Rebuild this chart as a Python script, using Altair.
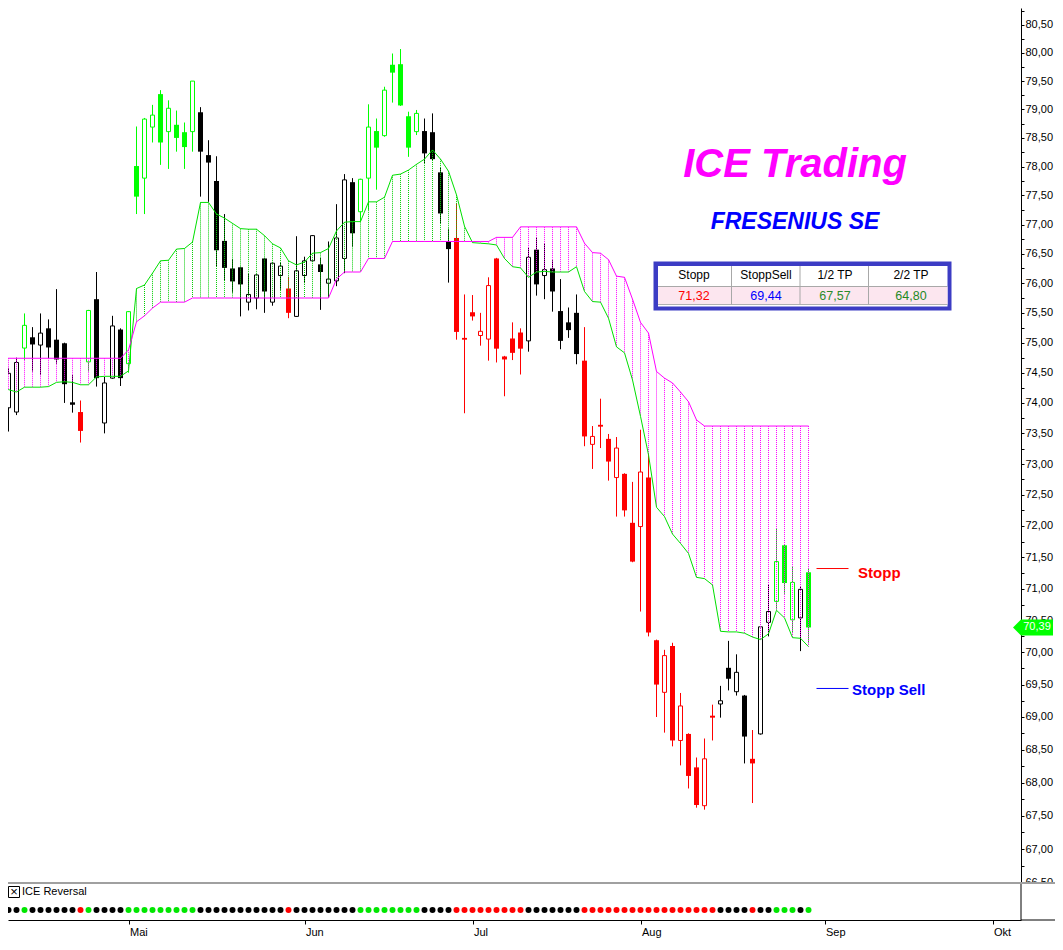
import altair as alt
import pandas as pd
import numpy as np

# ---------------- data ----------------
months = ["Mai", "Jun", "Jul", "Aug", "Sep", "Okt"]
month_first_session = [16, 38, 59, 80, 103, 124]   # session index of first trading day

opens = [75.09, 73.92, 73.85, 74.91, 75.09, 74.96, 75.24, 75.05, 74.99, 74.01,
         73.85, 74.68, 75.73, 73.67, 74.41, 75.22, 74.65, 78.01, 77.80, 78.69,
         79.27, 78.61, 78.73, 78.60, 78.61, 78.95, 78.20, 77.75, 76.72, 76.25,
         76.27, 75.68, 75.75, 76.42, 75.68, 76.13, 75.91, 75.44, 76.13, 76.38,
         76.32, 76.00, 76.04, 76.42, 77.73, 77.22, 77.80, 78.62, 78.54, 79.79,
         79.80, 78.88, 78.61, 78.62, 78.60, 77.90, 76.71, 76.77, 75.08, 75.51,
         75.12, 75.06, 76.42, 74.77, 75.07, 75.17, 75.03, 76.57, 76.13, 76.25,
         75.53, 75.34, 75.50, 74.70, 73.32, 73.64, 73.41, 72.78, 72.84, 72.05,
         71.99, 72.78, 70.19, 69.38, 70.10, 68.64, 68.74, 68.23, 67.65, 69.02,
         69.20, 69.76, 69.39, 69.33, 68.36, 68.74, 70.47, 70.80, 71.69, 70.51,
         70.54, 71.26]
highs = [75.21, 74.58, 74.75, 75.49, 75.26, 75.49, 75.39, 75.90, 75.00, 74.46,
         74.04, 75.55, 76.19, 74.43, 75.45, 75.24, 75.53, 78.70, 78.85, 79.08,
         79.34, 79.16, 78.98, 78.77, 79.50, 79.04, 78.46, 78.18, 77.18, 76.41,
         76.28, 76.16, 76.15, 76.43, 76.36, 76.35, 76.11, 76.80, 76.45, 76.82,
         76.43, 76.71, 77.35, 77.87, 77.80, 77.79, 79.09, 78.84, 79.40, 79.99,
         80.07, 78.96, 78.99, 78.84, 78.93, 77.98, 76.93, 77.36, 75.81, 75.80,
         75.50, 76.10, 76.43, 74.78, 75.34, 75.24, 76.60, 76.78, 76.68, 76.39,
         76.07, 75.59, 75.81, 75.26, 73.62, 74.07, 73.49, 73.44, 72.85, 72.71,
         73.56, 73.17, 70.20, 70.04, 70.15, 69.37, 68.75, 68.38, 68.67, 69.19,
         69.48, 70.18, 69.97, 69.34, 68.80, 70.41, 71.06, 71.96, 71.70, 71.35,
         71.04, 71.33]
lows = [74.30, 73.53, 73.80, 74.71, 74.52, 74.46, 74.74, 74.65, 74.00, 73.84,
        73.35, 74.52, 74.27, 73.50, 74.40, 74.28, 74.50, 77.18, 77.18, 78.42,
        78.03, 77.96, 78.26, 77.96, 78.26, 77.48, 77.39, 76.28, 76.04, 75.84,
        75.44, 75.54, 75.56, 75.50, 75.62, 75.89, 75.41, 75.43, 76.00, 76.36,
        75.55, 75.75, 75.95, 76.17, 76.62, 77.05, 77.25, 77.60, 78.52, 79.12,
        79.06, 78.17, 78.55, 78.06, 78.10, 77.02, 76.01, 75.05, 73.83, 75.37,
        74.95, 74.70, 74.67, 74.11, 74.71, 74.47, 74.85, 75.79, 75.73, 75.52,
        74.89, 75.08, 74.64, 73.29, 72.92, 73.26, 72.73, 72.15, 72.15, 71.42,
        70.64, 70.25, 69.00, 68.76, 68.55, 68.26, 67.91, 67.62, 67.59, 68.64,
        68.99, 69.41, 69.33, 68.29, 67.69, 68.73, 70.25, 70.67, 70.92, 70.30,
        70.02, 70.14]
closes = [74.42, 74.49, 74.67, 75.29, 74.97, 75.16, 74.92, 74.72, 74.31, 73.97,
          73.54, 75.54, 74.41, 74.33, 75.28, 74.41, 75.52, 77.48, 78.83, 78.90,
          78.42, 79.02, 78.50, 78.34, 79.50, 78.26, 78.07, 76.56, 76.26, 76.03,
          75.98, 75.81, 76.14, 75.86, 76.34, 76.29, 75.50, 76.21, 76.38, 76.81,
          76.19, 76.07, 76.77, 77.77, 76.85, 77.78, 78.69, 78.33, 79.34, 79.65,
          79.07, 78.33, 78.93, 78.23, 78.13, 77.19, 76.58, 75.18, 75.05, 75.44,
          75.19, 75.96, 74.90, 74.72, 74.83, 74.90, 76.44, 75.98, 76.23, 75.86,
          75.03, 75.21, 74.81, 73.45, 73.45, 73.61, 73.04, 73.26, 72.25, 71.43,
          72.87, 70.31, 69.50, 69.95, 68.64, 69.17, 68.10, 67.66, 68.36, 68.99,
          69.25, 69.59, 69.69, 68.70, 68.29, 70.40, 70.64, 71.43, 71.09, 71.10,
          70.99, 70.39]
# ICE Reversal signal per session: k = neutral (black), g = long (green), r = short (red)
signal = list("kkk" "g" "kkkkkk" "r" "g" "kkkk" "ggggggggg" "kkkkkkkkkkk" "r"
              "kkkkkkkk" "gggggggg" "kkkk" "rrrrrrrrr" "kkkkkkk" "rrrrrrrrrrrrrrrrr"
              "kkkk" "r" "kk" "ggg" "k" "g")
ice_line = [74.24, 74.22, 74.18, 74.26, 74.26, 74.26, 74.27, 74.34, 74.35, 74.34,
            74.30, 74.30, 74.43, 74.44, 74.44, 74.44, 74.53, 75.91, 75.97, 76.17,
            76.38, 76.39, 76.58, 76.59, 76.70, 77.38, 77.38, 77.18, 77.11, 77.02,
            76.93, 76.92, 76.92, 76.81, 76.67, 76.60, 76.38, 76.31, 76.36, 76.51,
            76.52, 76.59, 76.89, 77.04, 77.05, 77.05, 77.39, 77.39, 77.47, 77.85,
            77.87, 77.94, 78.04, 78.13, 78.29, 78.13, 77.92, 77.51, 76.97, 76.69,
            76.68, 76.67, 76.65, 76.42, 76.28, 76.26, 76.10, 76.19, 76.20, 76.19,
            76.19, 76.19, 76.28, 75.86, 75.69, 75.68, 75.41, 74.93, 74.83, 74.38,
            73.78, 73.15, 72.30, 72.15, 71.87, 71.72, 71.56, 71.18, 71.16, 71.06,
            70.33, 70.32, 70.32, 70.30, 70.24, 70.20, 70.29, 70.66, 70.54, 70.23,
            70.22, 70.09]
stop_line = ([74.74] * 16 + [74.88, 75.35, 75.45, 75.58] + [75.68] * 4 + [75.75] * 18 +
             [76.07] + [76.19] * 3 + [76.42] * 3 + [76.71] * 13 + [76.78] * 3 + [76.96] * 8 +
             [76.68, 76.52, 76.51, 76.40, 76.12, 76.10, 75.73, 75.34, 75.16, 74.52,
              74.41, 74.33, 74.18, 74.02, 73.72] + [73.62] * 14)

table_headers = ["Stopp", "StoppSell", "1/2 TP", "2/2 TP"]
table_values = [71.32, 69.44, 67.57, 64.80]
last_close = 70.39

# ---------------- styling ----------------
FONT = "Liberation Sans"
CANDLE = {"k": "#000000", "g": "#00ff00", "r": "#ff0000"}
DOTC = {"k": "#000000", "g": "#00e600", "r": "#ff0000"}
W, H = 1013, 875
PAD_R, PAD_B = 34, 55


def de(v):
    return f"{v:.2f}".replace(".", ",")


n = len(opens)
df = pd.DataFrame({"i": np.arange(n), "o": opens, "h": highs, "l": lows, "c": closes,
                   "sig": signal, "ice": ice_line, "stp": stop_line})
df["col"] = df["sig"].map(CANDLE)
df["dot"] = df["sig"].map(DOTC)
df["top"] = np.maximum(df.o, df.c)
df["bot"] = np.minimum(df.o, df.c)
df["filled"] = df.c < df.o
df["chi"] = np.maximum(df.ice, df.stp)
df["clo"] = np.minimum(df.ice, df.stp)
df["ccol"] = np.where(df.ice > df.stp, "#00cc00", "#ff00ff")

XS = alt.Scale(domain=[0.9375, 0.9375 + W / 8], nice=False, zero=False, padding=0)
YS = alt.Scale(type="log", domain=[66.495, 80.805], nice=False)

ticks = [66.5 + 0.25 * j for j in range(58)]
YAX = alt.Axis(orient="right", values=ticks, title=None, grid=False,
               labelExpr="(datum.value * 4) % 2 == 0 ? "
                         "replace(format(datum.value, '.2f'), '.', ',') : ''",
               tickSize=3, tickColor="black", domainColor="black", labelColor="black",
               labelFont=FONT, labelFontSize=11, labelPadding=1,
               labelOverlap=False, labelFlush=False)
month_expr = " : ".join(f"datum.value == {v} ? '{m}'"
                        for v, m in zip(month_first_session, months)) + " : ''"
XAX = alt.Axis(values=month_first_session, labelExpr=month_expr, title=None, grid=False,
               offset=37, tickSize=4, tickColor="black", domainColor="black",
               labelAlign="left", labelPadding=2, labelOffset=1, labelFont=FONT,
               labelFontSize=11, labelColor="black", labelFlush=False, labelOverlap=False)

base = alt.Chart(df)


def xq():
    return alt.X("i:Q", scale=XS, axis=XAX)


def yq(f):
    return alt.Y(f, scale=YS, axis=YAX)


def xd(v):
    return alt.XDatum(v, scale=XS, axis=XAX)


one = pd.DataFrame({"a": [0]})

wick = base.mark_rule(strokeWidth=1, clip=True).encode(
    x=xq(), y=yq("h:Q"), y2="l:Q", color=alt.Color("col:N", scale=None))
body_f = base.transform_filter("datum.filled").mark_bar(size=5, clip=True).encode(
    x=xq(), y=yq("top:Q"), y2="bot:Q", color=alt.Color("col:N", scale=None))
body_h = base.transform_filter("!datum.filled").mark_bar(
    size=4, fill="white", strokeWidth=1, clip=True).encode(
    x=xq(), y=yq("top:Q"), y2="bot:Q", stroke=alt.Stroke("col:N", scale=None))
hatch = base.mark_rule(strokeWidth=1, strokeDash=[1, 1], clip=True).encode(
    x=xq(), y=yq("chi:Q"), y2="clo:Q", color=alt.Color("ccol:N", scale=None))
ice = base.mark_line(color="#00e000", strokeWidth=1, clip=True).encode(x=xq(), y=yq("ice:Q"))
stp = base.mark_line(color="#ff00ff", strokeWidth=1, clip=True).encode(x=xq(), y=yq("stp:Q"))

lv = pd.DataFrame({"v": table_values[:2], "col": ["#ff0000", "#0000ff"]})
lv_rule = alt.Chart(lv).mark_rule(strokeWidth=1).encode(
    x=xd(102), x2=alt.X2Datum(106), y=yq("v:Q"), color=alt.Color("col:N", scale=None))
lv_t1 = alt.Chart(lv.iloc[[0]]).mark_text(
    text="Stopp", align="left", baseline="middle", font=FONT, fontSize=15,
    fontWeight="bold", color="#ff0000", dy=4).encode(x=xd(107.2), y=yq("v:Q"))
lv_t2 = alt.Chart(lv.iloc[[1]]).mark_text(
    text="Stopp Sell", align="left", baseline="middle", font=FONT, fontSize=15,
    fontWeight="bold", color="#0000ff", dy=2).encode(x=xd(106.45), y=yq("v:Q"))

title1 = alt.Chart(one).mark_text(
    text="ICE Trading", font=FONT, fontSize=40, fontWeight="bold", fontStyle="italic",
    color="#ff00ff", align="center", baseline="alphabetic").encode(
    x=alt.value(787), y=alt.value(169))
title2 = alt.Chart(one).mark_text(
    text="FRESENIUS SE", font=FONT, fontSize=23, fontWeight="bold", fontStyle="italic",
    color="#0000ff", align="center", baseline="alphabetic").encode(
    x=alt.value(787), y=alt.value(221))


def box(x1, x2, y1, y2, color):
    return alt.Chart(one).mark_rect(color=color).encode(
        x=alt.value(x1), x2=alt.value(x2), y=alt.value(y1), y2=alt.value(y2))


def hline(x1, x2, y, color, w=1):
    return alt.Chart(one).mark_rule(color=color, strokeWidth=w).encode(
        x=alt.value(x1), x2=alt.value(x2), y=alt.value(y))


def vline(x, y1, y2, color):
    return alt.Chart(one).mark_rule(color=color, strokeWidth=1).encode(
        x=alt.value(x), y=alt.value(y1), y2=alt.value(y2))


table_layers = [
    box(645.5, 943.5, 253.5, 302.5, "#3c3cc4"),
    box(650, 939.5, 258, 298.5, "#ffffff"),
    box(650, 939.5, 279, 296, "#fce6ef"),
    hline(650, 939.5, 278.5, "#a8a8a8"),
    hline(650, 939.5, 296.5, "#b0b0b0"),
]
for cx in [723.5, 792, 860.5]:
    table_layers.append(vline(cx, 258, 296.5, "#a8a8a8"))
centers = [686, 758, 827, 903]
vcols = ["#ff0000", "#0000ff", "#2a8c2a", "#1f8a1f"]
for hdr, val, cx, vc in zip(table_headers, table_values, centers, vcols):
    table_layers.append(alt.Chart(one).mark_text(
        text=hdr, font=FONT, fontSize=12, align="center", baseline="middle",
        color="black").encode(x=alt.value(cx), y=alt.value(267)))
    table_layers.append(alt.Chart(one).mark_text(
        text=de(val), font=FONT, fontSize=12.5, align="center", baseline="middle",
        color=vc).encode(x=alt.value(cx), y=alt.value(287.5)))

tagdf = pd.DataFrame({"v": [last_close]})
tag_shape = "M -1 0 L -0.6 -0.4 L 1 -0.4 L 1 0.4 L -0.6 0.4 Z"
tag = alt.Chart(tagdf).mark_point(
    shape=tag_shape, size=1600, filled=True, color="#00ff00", opacity=1,
    strokeWidth=0).encode(x=alt.value(1025), y=yq("v:Q"))
tag_t = alt.Chart(tagdf).mark_text(
    text=de(last_close), font=FONT, fontSize=11, color="white", align="center",
    baseline="middle").encode(x=alt.value(1029), y=yq("v:Q"))

# ---------------- lower panel: ICE Reversal ----------------
cover = box(W + 1, W + PAD_R, 876, 930, "#ffffff")
sep = hline(0, W + PAD_R, 875, "#a0a0a0", 2)
rv = vline(W, 876, 912, "black")
axis_ext = hline(W, W + PAD_R, 912, "black")
dots = base.mark_circle(size=36, opacity=1).encode(
    x=xq(), y=alt.value(902), color=alt.Color("dot:N", scale=None))
xbox = alt.Chart(one).mark_rect(fill="white", stroke="black", strokeWidth=1).encode(
    x=alt.value(0.5), x2=alt.value(11.5), y=alt.value(878.5), y2=alt.value(889.5))
xmark = alt.Chart(one).mark_text(text="×", font=FONT, fontSize=13, align="center",
                                 baseline="middle").encode(x=alt.value(6), y=alt.value(884))
lbl = alt.Chart(one).mark_text(text="ICE Reversal", font=FONT, fontSize=11, align="left",
                               baseline="middle").encode(x=alt.value(14), y=alt.value(884))

chart = alt.layer(
    wick, body_f, body_h, hatch, ice, stp, lv_rule, lv_t1, lv_t2,
    title1, title2, *table_layers, tag, tag_t,
    cover, sep, rv, axis_ext, dots, xbox, xmark, lbl
).properties(
    width=W, height=H,
    autosize=alt.AutoSizeParams(type="none"),
    padding={"left": 0, "top": 0, "right": PAD_R, "bottom": PAD_B},
).configure_view(stroke="transparent")

chart.save("out.html", embed_options={"renderer": "svg", "actions": False})
